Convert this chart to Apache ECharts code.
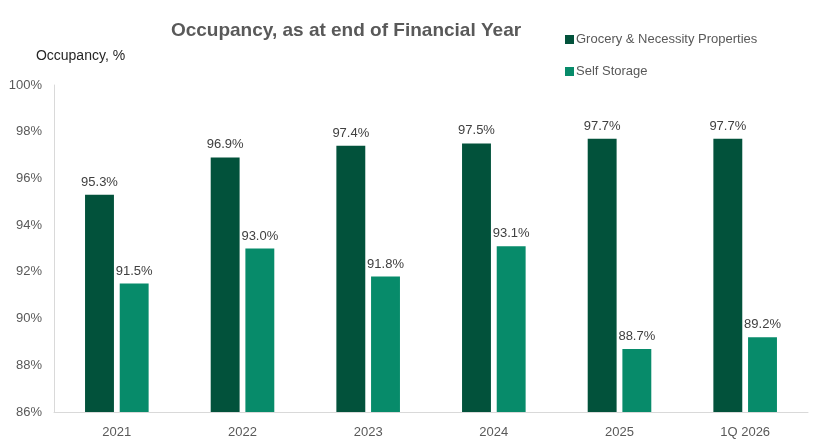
<!DOCTYPE html>
<html>
<head>
<meta charset="utf-8">
<title>Occupancy</title>
<script src="https://cdn.jsdelivr.net/npm/echarts@6/dist/echarts.min.js"></script>
<style>
    html, body { margin: 0; padding: 0; background: #fff; }
    #main { width: 819px; height: 445px; }
</style>
</head>
<body>
<div id="main"></div>
<script>
    var years = ['2021', '2022', '2023', '2024', '2025', '1Q 2026'];
    var grocery = [95.3, 96.9, 97.4, 97.5, 97.7, 97.7];
    var storage = [91.5, 93.0, 91.8, 93.1, 88.7, 89.2];

    var font = '"Liberation Sans Narrow", "Liberation Sans", Arial, sans-serif';
    var chart = echarts.init(document.getElementById('main'));

    var labelOpt = {
        show: true,
        position: 'top',
        distance: 6,
        color: '#404040',
        fontSize: 13,
        fontFamily: font,
        formatter: function (p) { return p.value.toFixed(1) + '%'; }
    };

    var option = {
        animation: false,
        textStyle: { fontFamily: font },
        title: {
            text: 'Occupancy, as at end of Financial Year',
            left: 341,
            textAlign: 'center',
            top: 16,
            textStyle: { color: '#595959', fontSize: 19, fontWeight: 'bold', fontFamily: font }
        },
        legend: {
            orient: 'vertical',
            left: 560,
            top: 28,
            itemGap: 19,
            itemWidth: 9,
            itemHeight: 9,
            icon: 'rect',
            textStyle: { color: '#595959', fontSize: 13, fontFamily: font, padding: [0, 0, 0, -3] },
            data: ['Grocery & Necessity Properties', 'Self Storage']
        },
        grid: { left: 54, right: 11, top: 85, bottom: 33 },
        xAxis: {
            type: 'category',
            data: years,
            axisLine: { lineStyle: { color: '#d9d9d9' } },
            axisTick: { show: false },
            axisLabel: { color: '#595959', fontSize: 13, fontFamily: font, margin: 14 }
        },
        yAxis: {
            type: 'value',
            min: 86,
            max: 100,
            interval: 2,
            name: 'Occupancy, %',
            nameLocation: 'end',
            nameGap: 22,
            nameTextStyle: { color: '#262626', fontSize: 14, fontFamily: font, align: 'center', padding: [0, 0, 0, 53] },
            axisLine: { show: true, lineStyle: { color: '#d9d9d9' } },
            axisTick: { show: false },
            splitLine: { show: false },
            axisLabel: { color: '#595959', fontSize: 13, fontFamily: font, margin: 12, formatter: '{value}%' }
        },
        series: [
            {
                name: 'Grocery & Necessity Properties',
                type: 'bar',
                data: grocery,
                barWidth: '23%',
                barGap: '20%',
                itemStyle: { color: '#02523b' },
                label: labelOpt
            },
            {
                name: 'Self Storage',
                type: 'bar',
                data: storage,
                barWidth: '23%',
                itemStyle: { color: '#078b6a' },
                label: labelOpt
            }
        ]
    };
    chart.setOption(option);
</script>
</body>
</html>
